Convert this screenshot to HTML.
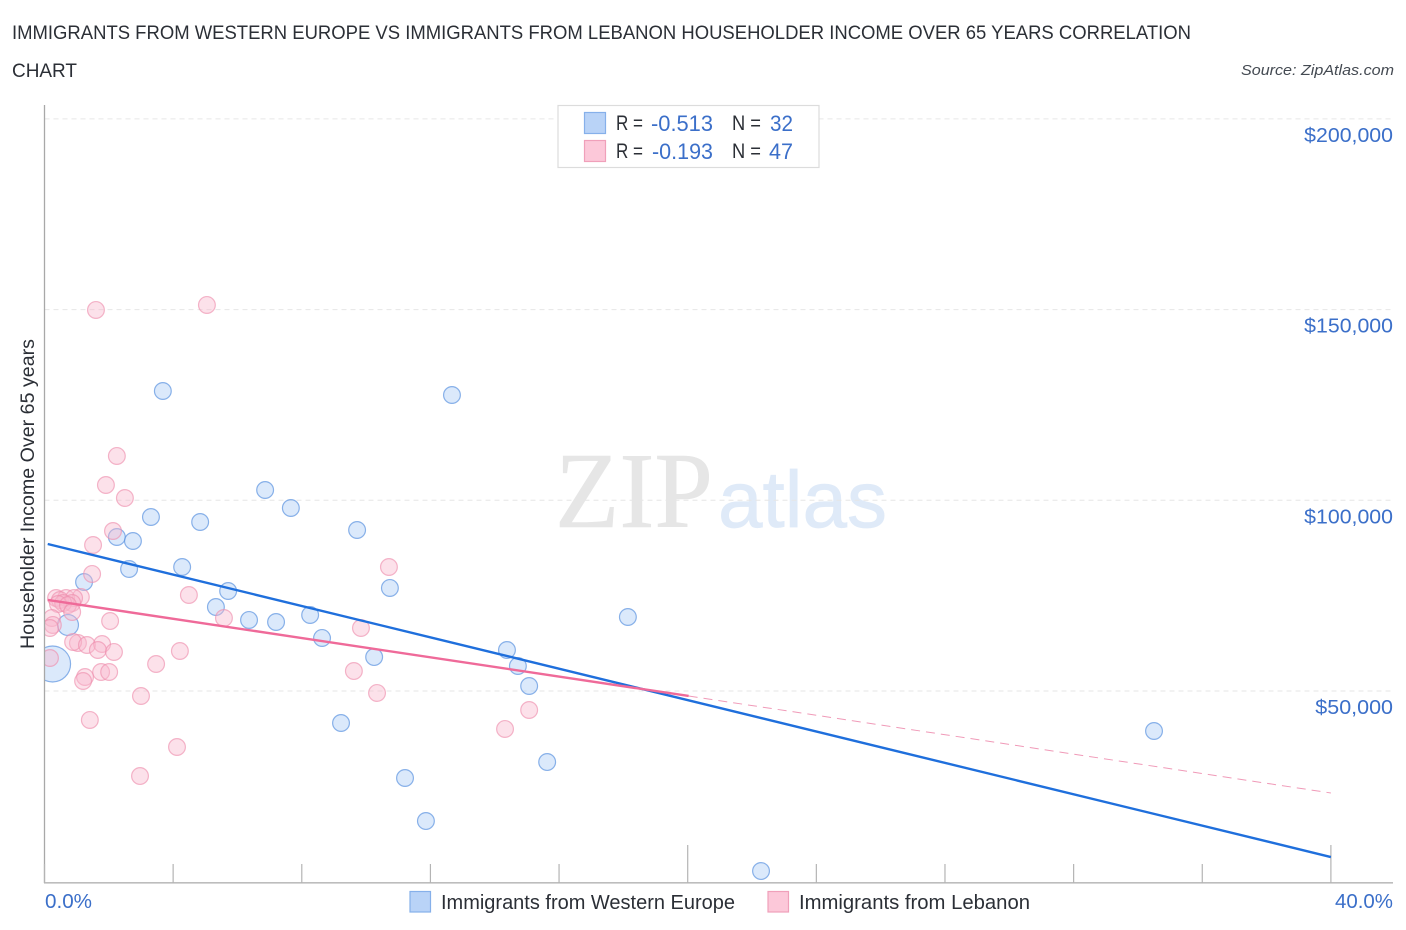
<!DOCTYPE html>
<html lang="en">
<head>
<meta charset="utf-8">
<title>Immigrants from Western Europe vs Immigrants from Lebanon Householder Income Over 65 Years Correlation Chart</title>
<style>
html,body{margin:0;padding:0;background:#fff;}
svg{display:block;font-family:"Liberation Sans",sans-serif;}
</style>
</head>
<body>
<svg id="chart" xmlns="http://www.w3.org/2000/svg" width="1406" height="930" viewBox="0 0 1406 930">
  <rect x="0" y="0" width="1406" height="930" fill="#ffffff"/>

  <text x="12" y="39" font-size="19.5" fill="#2b2f36" textLength="1179" lengthAdjust="spacingAndGlyphs">IMMIGRANTS FROM WESTERN EUROPE VS IMMIGRANTS FROM LEBANON HOUSEHOLDER INCOME OVER 65 YEARS CORRELATION</text>
  <text x="12" y="77" font-size="19.5" fill="#2b2f36" textLength="65" lengthAdjust="spacingAndGlyphs">CHART</text>
  <text x="1394" y="75" font-size="15" font-style="italic" fill="#444a52" text-anchor="end" textLength="153" lengthAdjust="spacingAndGlyphs">Source: ZipAtlas.com</text>

  <g>
    <text x="555" y="527" font-family="'Liberation Serif',serif" font-size="108" fill="#e6e6e6" stroke="#e6e6e6" stroke-width="0.6" textLength="158" lengthAdjust="spacingAndGlyphs">ZIP</text>
    <text x="718" y="527" font-size="80" fill="#dfeaf8" stroke="#dfeaf8" stroke-width="0.7" textLength="169" lengthAdjust="spacingAndGlyphs">atlas</text>
  </g>

  <g id="grid"></g>

  <g id="points-blue"></g>
  <g id="points-pink"></g>
  <rect x="0" y="100" width="44.5" height="790" fill="#ffffff"/>

  <g id="axes"></g>
  <g id="ylabels"></g>
  <g id="xlabels"></g>

  <text transform="translate(34,494) rotate(-90)" font-size="19" fill="#2b2f36" text-anchor="middle" textLength="310" lengthAdjust="spacingAndGlyphs">Householder Income Over 65 years</text>

  <g id="trends"></g>

  <g>
    <rect x="558" y="105.5" width="261" height="62" fill="#ffffff" stroke="#dcdcdc" stroke-width="1.2"/>
    <rect x="584.5" y="112.5" width="21" height="21" fill="#b9d3f7" stroke="#86b0ea" stroke-width="1.2"/>
    <rect x="584.5" y="140.5" width="21" height="21" fill="#fcc8d9" stroke="#f0a0ba" stroke-width="1.2"/>
    <text x="616" y="130" font-size="21" fill="#2b2f36" textLength="27" lengthAdjust="spacingAndGlyphs">R =</text>
    <text x="651" y="131" font-size="22" fill="#3b6fc9" textLength="62" lengthAdjust="spacingAndGlyphs">-0.513</text>
    <text x="732" y="130" font-size="21" fill="#2b2f36" textLength="29" lengthAdjust="spacingAndGlyphs">N =</text>
    <text x="770" y="131" font-size="22" fill="#3b6fc9" textLength="23" lengthAdjust="spacingAndGlyphs">32</text>
    <text x="616" y="158" font-size="21" fill="#2b2f36" textLength="27" lengthAdjust="spacingAndGlyphs">R =</text>
    <text x="652" y="159" font-size="22" fill="#3b6fc9" textLength="61" lengthAdjust="spacingAndGlyphs">-0.193</text>
    <text x="732" y="158" font-size="21" fill="#2b2f36" textLength="29" lengthAdjust="spacingAndGlyphs">N =</text>
    <text x="769" y="159" font-size="22" fill="#3b6fc9" textLength="24" lengthAdjust="spacingAndGlyphs">47</text>
  </g>

  <g>
    <rect x="410" y="891.5" width="20.5" height="20.5" fill="#b9d3f7" stroke="#86b0ea" stroke-width="1.2"/>
    <text x="441" y="909" font-size="20" fill="#2b2f36" textLength="294" lengthAdjust="spacingAndGlyphs">Immigrants from Western Europe</text>
    <rect x="768" y="891.5" width="20.5" height="20.5" fill="#fcc8d9" stroke="#f0a0ba" stroke-width="1.2"/>
    <text x="799" y="909" font-size="20" fill="#2b2f36" textLength="231" lengthAdjust="spacingAndGlyphs">Immigrants from Lebanon</text>
  </g>
</svg>

<script>
// Chart data
const yTickValues = [50000, 100000, 150000, 200000];
const yTickLabels = ["$50,000", "$100,000", "$150,000", "$200,000"];
const xTickValues = [0, 4, 8, 12, 16, 20, 24, 28, 32, 36, 40];
const xMajorTicks = [20, 40];
const xEndLabels = ["0.0%", "40.0%"];

const westernEuropeX = [3.68, 12.67, 6.86, 7.66, 3.31, 4.84, 9.72, 2.25, 2.75, 2.63, 4.28, 1.23, 5.71, 10.74, 5.33, 6.36, 7.2, 8.26, 18.14, 0.73, 8.63, 14.38, 10.25, 14.72, 15.07, 9.22, 15.63, 11.21, 11.86, 22.28, 34.5, 0.25];
const westernEuropeY = [128660, 127610, 102700, 97980, 95620, 94310, 92210, 90380, 89330, 81990, 82510, 78580, 76220, 77010, 72020, 68620, 68090, 69930, 69400, 67310, 63900, 60750, 58910, 56560, 51310, 41610, 31380, 27190, 15910, 2800, 39510, 57080];
const westernEuropeWeight = [1, 1, 1, 1, 1, 1, 1, 1, 1, 1, 1, 1, 1, 1, 1, 1, 1, 1, 1, 1.56, 1, 1, 1, 1, 1, 1, 1, 1, 1, 1, 1, 4.6];

const lebanonX = [1.6, 5.05, 2.25, 1.91, 2.5, 2.13, 1.51, 1.48, 10.71, 4.49, 1.13, 0.36, 0.67, 0.48, 0.92, 0.86, 0.58, 0.42, 0.73, 1.04, 5.58, 2.04, 0.23, 0.26, 9.84, 0.17, 0.89, 1.32, 1.79, 1.66, 2.16, 0.86, 3.47, 4.21, 9.62, 1.76, 2.01, 1.26, 1.2, 0.17, 3.0, 10.34, 1.41, 4.12, 14.32, 15.07, 2.97];
const lebanonY = [149900, 151210, 111620, 104010, 100600, 91950, 88280, 80680, 82510, 75170, 74650, 74380, 74380, 73860, 74380, 73070, 73070, 72810, 72550, 62590, 69140, 68350, 69140, 67310, 66520, 66520, 62850, 62060, 62320, 60750, 60230, 70710, 57080, 60490, 55240, 54980, 54980, 53670, 52620, 58650, 48690, 49480, 42400, 35320, 40040, 45020, 27710];

const blueTrendX = [0.1, 40];
const blueTrendY = [88540, 6470];
const pinkTrendX = [0.1, 20.03];
const pinkTrendY = [73860, 48690];
const pinkDashX = [20.03, 40];
const pinkDashY = [48690, 23260];

// Axis functions
function xScale(v) { return 44.5 + v * 32.16; }
function yScale(v) { return 691 - (v - 50000) * 0.003814; }

const NS = "http://www.w3.org/2000/svg";
function make(tag, attrs, parent) {
  const el = document.createElementNS(NS, tag);
  for (const k in attrs) el.setAttribute(k, attrs[k]);
  parent.appendChild(el);
  return el;
}

// Gridlines and y labels
const grid = document.getElementById("grid");
const ylabels = document.getElementById("ylabels");
yTickValues.forEach(function (v, i) {
  const g = make("line", {x1: 44.5, x2: 1393, y1: yScale(v), y2: yScale(v), stroke: "#e6e6e6", "stroke-width": 1, "stroke-dasharray": "5 4"}, grid);
  
  
  const t = make("text", {x: 1393, y: yScale(v) + 23, "font-size": 20, fill: "#3b6fc9", "text-anchor": "end", textLength: yTickLabels[i].length * 11.1, lengthAdjust: "spacingAndGlyphs"}, ylabels);
  
  
  t.textContent = yTickLabels[i];
});

// Axes and ticks
const axes = document.getElementById("axes");
const yAxis = make("line", {x1: 44.5, x2: 44.5, y1: 105, y2: 883, stroke: "#a8a8a8", "stroke-width": 1.3}, axes);


const xAxis = make("line", {x1: 44, x2: 1393, y1: 882.8, y2: 882.8, stroke: "#bdbdbd", "stroke-width": 1.6}, axes);


xTickValues.forEach(function (v) {
  const top = xMajorTicks.indexOf(v) >= 0 ? 845 : 864;
  const tick = make("line", {x1: xScale(v), x2: xScale(v), y1: top, y2: 883, stroke: "#b4b4b4", "stroke-width": 1.2}, axes);
  
  
});

// X labels
const xlabels = document.getElementById("xlabels");
const xl0 = make("text", {x: 45, y: 908, "font-size": 20, fill: "#3b6fc9", textLength: 47, lengthAdjust: "spacingAndGlyphs"}, xlabels);


xl0.textContent = xEndLabels[0];
const xl1 = make("text", {x: 1393, y: 908, "font-size": 20, fill: "#3b6fc9", "text-anchor": "end", textLength: 58, lengthAdjust: "spacingAndGlyphs"}, xlabels);


xl1.textContent = xEndLabels[1];

// Points
const pointsBlue = document.getElementById("points-blue");
westernEuropeX.forEach(function (v, i) {
  const c = make("circle", {cx: xScale(v), cy: yScale(westernEuropeY[i]), r: 8.4 * Math.sqrt(westernEuropeWeight[i]), fill: "#a9cbf5", "fill-opacity": 0.42, stroke: "#5b93e0", "stroke-opacity": 0.7, "stroke-width": 1.2}, pointsBlue);
  
  
});
const pointsPink = document.getElementById("points-pink");
lebanonX.forEach(function (v, i) {
  const c = make("circle", {cx: xScale(v), cy: yScale(lebanonY[i]), r: 8.4, fill: "#f9b8cd", "fill-opacity": 0.42, stroke: "#ee8fae", "stroke-opacity": 0.65, "stroke-width": 1.2}, pointsPink);
  
  
});

// Trend lines
const trends = document.getElementById("trends");
const dash = make("line", {x1: xScale(pinkDashX[0]), y1: yScale(pinkDashY[0]), x2: xScale(pinkDashX[1]), y2: yScale(pinkDashY[1]), stroke: "#f09ab8", "stroke-width": 1, "stroke-dasharray": "9 6"}, trends);


const blueLine = make("line", {x1: xScale(blueTrendX[0]), y1: yScale(blueTrendY[0]), x2: xScale(blueTrendX[1]), y2: yScale(blueTrendY[1]), stroke: "#1f6fdc", "stroke-width": 2.4}, trends);


const pinkLine = make("line", {x1: xScale(pinkTrendX[0]), y1: yScale(pinkTrendY[0]), x2: xScale(pinkTrendX[1]), y2: yScale(pinkTrendY[1]), stroke: "#ef6a99", "stroke-width": 2.4}, trends);


</script>
</body>
</html>
